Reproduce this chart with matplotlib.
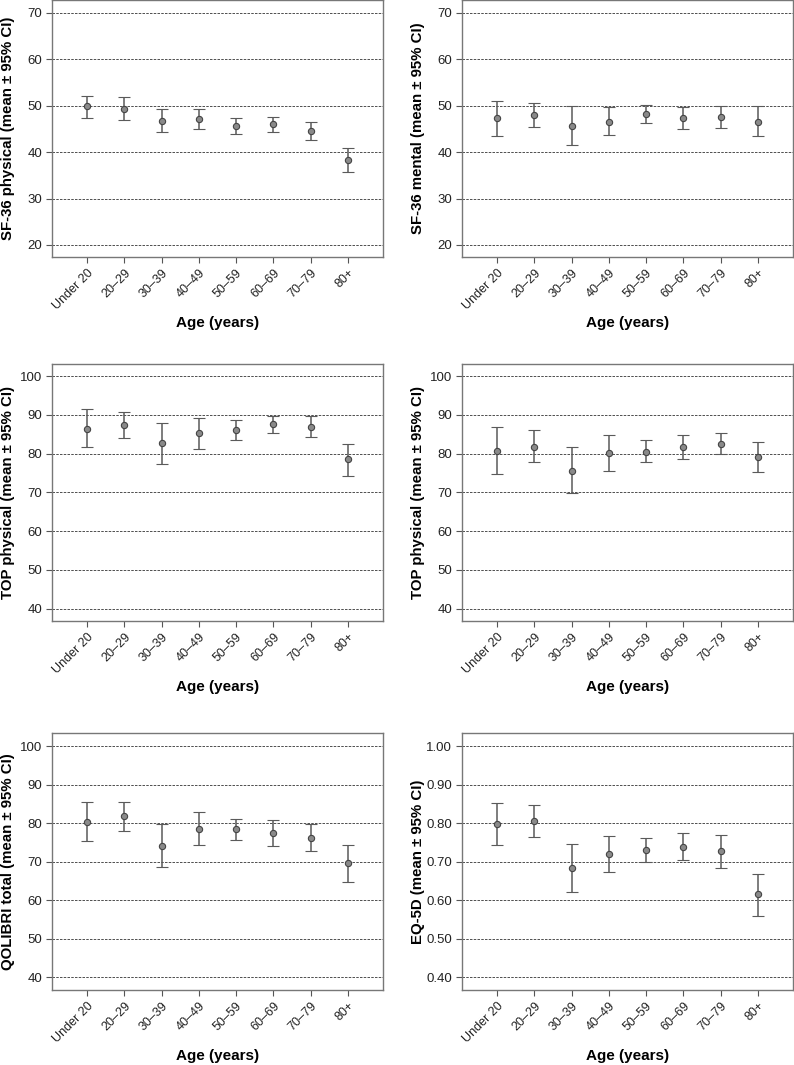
import matplotlib.pyplot as plt

plt.rcParams['font.family'] = ['Liberation Sans', 'DejaVu Sans']

ages = ["Under 20", "20–29", "30–39", "40–49", "50–59", "60–69", "70–79", "80+"]

# SF-36 physical
sf_phys_mean = [49.9, 49.4, 46.8, 47.1, 45.7, 46.0, 44.5, 38.3]
sf_phys_hi = [52.2, 51.8, 49.3, 49.3, 47.3, 47.6, 46.4, 41.0]
sf_phys_lo = [47.4, 46.9, 44.3, 45.0, 43.9, 44.3, 42.7, 35.7]

# SF-36 mental
sf_ment_mean = [47.3, 48.0, 45.7, 46.6, 48.3, 47.4, 47.6, 46.6]
sf_ment_hi = [51.1, 50.6, 49.9, 49.7, 50.1, 49.8, 50.0, 50.0]
sf_ment_lo = [43.5, 45.4, 41.5, 43.7, 46.3, 45.0, 45.2, 43.4]

# TOP physical (left)
top1_mean = [86.4, 87.3, 82.6, 85.3, 86.1, 87.5, 86.9, 78.5]
top1_hi = [91.4, 90.6, 87.8, 89.2, 88.7, 89.8, 89.8, 82.5]
top1_lo = [81.6, 83.9, 77.4, 81.3, 83.4, 85.2, 84.2, 74.3]

# TOP physical (right)
top2_mean = [80.6, 81.8, 75.6, 80.1, 80.5, 81.7, 82.4, 79.2]
top2_hi = [86.8, 86.0, 81.7, 84.8, 83.4, 84.8, 85.2, 83.0]
top2_lo = [74.7, 77.7, 69.8, 75.4, 77.8, 78.5, 79.9, 75.2]

# QOLIBRI total
qol_mean = [80.4, 81.8, 74.2, 78.6, 78.4, 77.5, 76.2, 69.6]
qol_hi = [85.5, 85.6, 79.9, 82.8, 81.2, 80.7, 79.8, 74.3]
qol_lo = [75.3, 77.9, 68.5, 74.4, 75.7, 74.2, 72.8, 64.6]

# EQ-5D
eq_mean = [0.799, 0.805, 0.684, 0.719, 0.731, 0.739, 0.727, 0.615]
eq_hi = [0.853, 0.847, 0.747, 0.766, 0.762, 0.774, 0.770, 0.668]
eq_lo = [0.743, 0.765, 0.622, 0.672, 0.700, 0.704, 0.684, 0.560]

panels = [
    ("SF-36 physical (mean ± 95% CI)", sf_phys_mean, sf_phys_lo, sf_phys_hi,
     [20, 30, 40, 50, 60, 70], (17.4, 72.8), "%d"),
    ("SF-36 mental (mean ± 95% CI)", sf_ment_mean, sf_ment_lo, sf_ment_hi,
     [20, 30, 40, 50, 60, 70], (17.4, 72.8), "%d"),
    ("TOP physical (mean ± 95% CI)", top1_mean, top1_lo, top1_hi,
     [40, 50, 60, 70, 80, 90, 100], (36.8, 103.1), "%d"),
    ("TOP physical (mean ± 95% CI)", top2_mean, top2_lo, top2_hi,
     [40, 50, 60, 70, 80, 90, 100], (36.8, 103.1), "%d"),
    ("QOLIBRI total (mean ± 95% CI)", qol_mean, qol_lo, qol_hi,
     [40, 50, 60, 70, 80, 90, 100], (36.7, 103.4), "%d"),
    ("EQ-5D (mean ± 95% CI)", eq_mean, eq_lo, eq_hi,
     [0.4, 0.5, 0.6, 0.7, 0.8, 0.9, 1.0], (0.367, 1.034), "%.2f"),
]

W, H = 794, 1065
fig = plt.figure(figsize=(W / 100, H / 100), dpi=100)

lefts = [52, 462]
tops = [0, 364, 733]
aw, ah = 331, 257
label_x = [8, 418]

x = list(range(len(ages)))

for i, (ylabel, mean, lo, hi, yticks, ylim, fmt) in enumerate(panels):
    col = i % 2
    row = i // 2
    l = lefts[col]
    t = tops[row]
    ax = fig.add_axes([l / W, 1 - (t + ah) / H, aw / W, ah / H])

    err = [[m - a for m, a in zip(mean, lo)], [b - m for m, b in zip(mean, hi)]]
    ax.errorbar(x, mean, yerr=err, fmt='o', color='#5a5a5a', ecolor='#5a5a5a',
                elinewidth=1.1, capsize=4.5, capthick=1.1,
                markersize=4.5, markerfacecolor='#8a8a8a', markeredgecolor='#444444',
                markeredgewidth=0.8, zorder=3)

    for yt in yticks:
        ax.axhline(yt, color='#333333', lw=0.6, ls=(0, (3, 1.5)), zorder=1)

    ax.set_xlim(-0.94, 7.94)
    ax.set_ylim(*ylim)
    ax.set_yticks(yticks)
    ax.set_yticklabels([fmt % v for v in yticks], fontsize=9.5, color='#222222')
    ax.set_xticks(x)
    ax.set_xticklabels(ages, rotation=45, ha='right', rotation_mode='anchor',
                       fontsize=9, color='#222222')
    ax.tick_params(length=4, width=0.8, color='#555555', pad=3)
    for sp in ax.spines.values():
        sp.set_color('#777777')
        sp.set_linewidth(1.0)

    # axis titles at fixed pixel positions
    fig.text(label_x[col] / W, 1 - (t + ah / 2) / H, ylabel, rotation=90,
             ha='center', va='center', fontsize=10.8, fontweight='bold')
    fig.text((l + aw / 2) / W, 1 - (t + ah + 66) / H, "Age (years)",
             ha='center', va='center', fontsize=11, fontweight='bold')

fig.savefig("out.png", dpi=100)
